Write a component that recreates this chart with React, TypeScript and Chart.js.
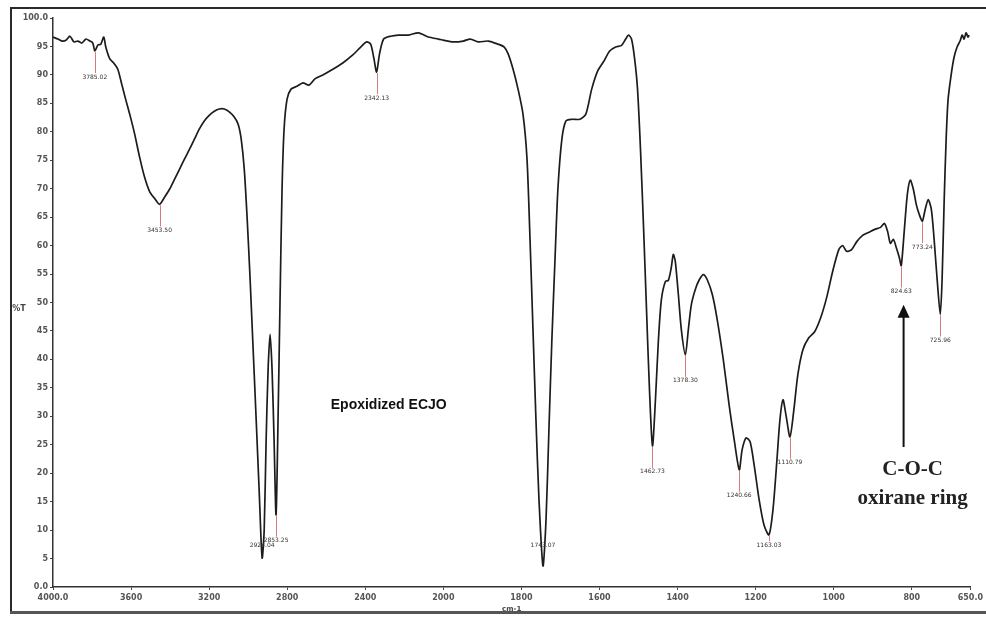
import React, { useEffect, useRef } from 'react';
import { Chart, registerables, LinearScale } from 'chart.js';

// ---- Data ----
const wavenumbers: number[] = [
  4000, 3974.5, 3954, 3933.7, 3913, 3893, 3872.5, 3852, 3831.6, 3811, 3796, 3785.7, 3770, 3755, 3740, 3729.6,
  3709, 3689, 3668, 3648, 3627.6, 3607, 3581.6, 3556, 3530.6, 3505, 3479.6, 3454, 3428.6, 3403, 3377.6, 3352,
  3326.5, 3301, 3275.5, 3250, 3224.9, 3199.7, 3173.5, 3148, 3122.5, 3097, 3071.4, 3051, 3035.7, 3020, 3005,
  2990, 2974.5, 2959, 2943.9, 2928.6, 2918, 2908, 2898, 2887.8, 2877.6, 2867.4, 2857.2, 2847, 2836.7, 2826.5,
  2816, 2801, 2780.6, 2750, 2719.4, 2688.8, 2658, 2617.4, 2566.3, 2515.3, 2464, 2423.5, 2393, 2372.5, 2357,
  2342, 2327, 2306, 2270, 2229.6, 2178.6, 2127.6, 2076.5, 2025.5, 2000,
  1974.5, 1949, 1931, 1910.7, 1885, 1859.7, 1844, 1834, 1821.4, 1808.7, 1796, 1785.7, 1778, 1770.4, 1762.8,
  1755, 1744.8, 1737, 1729.6, 1722, 1714, 1706.6, 1696.4, 1686, 1671, 1650.5, 1635, 1620, 1604.6, 1589, 1574,
  1558.7, 1543.4, 1533, 1525.5, 1518, 1510, 1502.6, 1495, 1487, 1479.6, 1472, 1464.3, 1456.7, 1449, 1441.5,
  1431.3, 1423.6, 1416, 1411, 1405.8, 1398, 1390.3, 1380, 1372.5, 1364.8, 1354.6, 1344.4, 1334, 1324, 1311,
  1298.5, 1283, 1268, 1255, 1242, 1234.7, 1224.5, 1214, 1204, 1191, 1178.6, 1166, 1155.6, 1145.4, 1137.8,
  1130, 1122.5, 1112, 1102, 1092, 1079, 1064, 1048.5, 1033, 1018, 1002.6, 987, 977, 967, 954, 941, 926, 911,
  895, 880, 870, 862, 855, 847, 840, 832, 827, 819, 811.4, 803.8, 796, 788.6, 781, 773, 765.6, 758, 750,
  742.8, 735, 727, 722.4, 717, 712, 707, 699, 691.7, 684, 676, 671, 666, 661, 656, 653,
];

const transmittance: number[] = [
  96.65, 96.3, 95.95, 96.1, 96.8, 95.8, 95.95, 95.6, 96.3, 95.95, 95.6, 94.2, 95.25, 95.4, 96.65, 94.9,
  92.8, 92.1, 91.0, 88.4, 85.7, 83.1, 79.6, 75.5, 72.0, 69.5, 68.3, 67.25, 68.5, 69.9, 71.65, 73.4,
  75.2, 76.9, 78.7, 80.5, 81.9, 82.9, 83.6, 84.0, 84.0, 83.5, 82.6, 81.3, 78.7, 73.4, 64.6,
  54.0, 41.7, 29.4, 17.1, 5.1, 10.0, 25.9, 38.2, 44.4, 38.2, 25.9, 12.7, 29.4, 50.5, 69.9,
  80.5, 85.7, 87.5, 88.0, 88.6, 88.2, 89.3, 90.0, 91.0, 92.1, 93.5, 94.9, 95.8, 95.4, 93.1,
  90.5, 93.7, 96.3, 96.8, 97.0, 97.0, 97.4, 96.65, 96.3, 96.1,
  95.8, 95.95, 96.3, 95.8, 95.95, 95.4, 94.9, 93.7, 91.0, 87.5, 83.1, 75.2, 61.1, 45.2, 29.4,
  15.3, 3.7, 11.8, 27.6, 43.5, 57.6, 69.9, 78.7, 81.9, 82.2, 82.2, 83.1, 87.5, 90.7, 92.4, 94.2,
  94.9, 95.2, 96.3, 97.0, 96.3, 92.8, 87.5, 76.9, 62.9, 48.8, 34.7, 24.8, 32.9, 43.5, 50.5,
  53.7, 53.9, 56.2, 58.45, 57.2, 51.4, 45.2, 40.8, 45.2, 49.6, 52.3, 54.0, 54.9, 54.0, 51.4,
  47.0, 40.0, 32.0, 25.9, 20.6, 24.1, 26.2, 25.5, 21.5, 15.3, 10.9, 9.15, 13.6, 22.4, 29.4,
  32.9, 30.3, 26.4, 31.2, 37.3, 41.7, 43.8, 44.9, 47.4, 50.9, 55.5, 59.3, 60.0, 59.0, 59.3, 60.7, 61.8, 62.3,
  62.85, 63.2, 63.9, 62.5, 60.4, 61.1, 59.7, 57.9, 56.5, 62.85, 69.0, 71.5, 69.9, 67.25, 65.5, 64.3, 66.4, 68.1, 66.4,
  61.1, 54.0, 47.9, 54.0, 68.1, 78.7, 85.7, 90.1, 93.1, 94.9, 96.0, 97.0, 96.3, 97.4, 96.65, 97.0,
];

const xTickValues: number[] = [4000, 3600, 3200, 2800, 2400, 2000, 1800, 1600, 1400, 1200, 1000, 800, 650];
const xTickLabels: string[] = ['4000.0', '3600', '3200', '2800', '2400', '2000', '1800', '1600', '1400', '1200', '1000', '800', '650.0'];

const peakWavenumbers: number[] = [3785.7, 3454, 2928.6, 2857.2, 2342, 1744.8, 1464.3, 1380, 1242, 1166, 1112, 827, 773, 727];
const peakLabels: string[] = ['3785.02', '3453.50', '2924.04', '2853.25', '2342.13', '1743.07', '1462.73', '1378.30', '1240.66', '1163.03', '1110.79', '824.63', '773.24', '725.96'];

const chartTitle = 'Epoxidized ECJO';
const annotationLines: string[] = ['C-O-C', 'oxirane ring'];

// ---- Split wavenumber axis (400 cm-1 per division above 2000, 200 below) ----
const AXIS_MAX = 4000;
const AXIS_MIN = 650;
const AXIS_BREAK = 2000;
const HIGH_STEP = 400;
const LOW_STEP = 200;
const HIGH_UNITS = (AXIS_MAX - AXIS_BREAK) / HIGH_STEP;
const TOTAL_UNITS = HIGH_UNITS + (AXIS_BREAK - AXIS_MIN) / LOW_STEP;

function toFrac(w: number): number {
  const u = w >= AXIS_BREAK ? (AXIS_MAX - w) / HIGH_STEP : HIGH_UNITS + (AXIS_BREAK - w) / LOW_STEP;
  return u / TOTAL_UNITS;
}
function fromFrac(f: number): number {
  const u = f * TOTAL_UNITS;
  return u <= HIGH_UNITS ? AXIS_MAX - u * HIGH_STEP : AXIS_BREAK - (u - HIGH_UNITS) * LOW_STEP;
}

class WavenumberScale extends LinearScale {
  static id = 'wavenumber';
  static defaults = LinearScale.defaults;
  buildTicks() {
    (this as any).start = this.min;
    (this as any).end = this.max;
    return xTickValues.map((v) => ({ value: v }));
  }
  getPixelForValue(v: number) {
    if (v === null || v === undefined || isNaN(v)) return NaN;
    return this.getPixelForDecimal(toFrac(v));
  }
  getValueForPixel(p: number) {
    return fromFrac(this.getDecimalForPixel(p));
  }
}

Chart.register(...registerables, WavenumberScale as any);

const tickFont = { family: '"DejaVu Sans", sans-serif', size: 8, weight: 'bold' as const };

const ftirPlugin = {
  id: 'ftirDecor',
  beforeDraw(chart: any) {
    const ctx = chart.ctx;
    ctx.save();
    ctx.fillStyle = '#ffffff';
    ctx.fillRect(0, 0, chart.width, chart.height);
    ctx.fillStyle = '#2a2a2a';
    ctx.fillRect(10, 7, chart.width - 10, 2);
    ctx.fillRect(10, 7, 2, 606);
    ctx.fillStyle = '#555555';
    ctx.fillRect(10, 611, chart.width - 10, 3);
    ctx.restore();
  },
  afterDatasetsDraw(chart: any) {
    const ctx = chart.ctx;
    const xs = chart.scales.x;
    const ys = chart.scales.y;
    const meta = chart.getDatasetMeta(0);
    ctx.save();
    // peak markers
    ctx.font = '6px "DejaVu Sans", sans-serif';
    ctx.textAlign = 'center';
    ctx.textBaseline = 'middle';
    peakWavenumbers.forEach((wn, k) => {
      let best = 0;
      let bd = Infinity;
      wavenumbers.forEach((w, i) => {
        const d = Math.abs(w - wn);
        if (d < bd) { bd = d; best = i; }
      });
      const el = meta.data[best];
      if (!el) return;
      const px = el.x;
      const py = el.y;
      const ly = Math.min(py + 26, chart.chartArea.bottom - 42);
      if (ly - 4 > py + 1) {
        ctx.strokeStyle = '#d97a7a';
        ctx.lineWidth = 1;
        ctx.beginPath();
        ctx.moveTo(Math.round(px) + 0.5, py + 1);
        ctx.lineTo(Math.round(px) + 0.5, ly - 4);
        ctx.stroke();
      }
      ctx.fillStyle = '#333333';
      ctx.fillText(peakLabels[k], px, ly);
    });

    // title text inside plot
    ctx.fillStyle = '#111111';
    ctx.font = 'bold 14px "Liberation Sans", Arial, sans-serif';
    ctx.fillText(chartTitle, xs.getPixelForValue(2280), ys.getPixelForValue(32));

    // arrow
    const ax = xs.getPixelForValue(821);
    const tipY = ys.getPixelForValue(49.6);
    const baseY = ys.getPixelForValue(24.6);
    ctx.strokeStyle = '#111111';
    ctx.lineWidth = 2;
    ctx.beginPath();
    ctx.moveTo(ax, baseY);
    ctx.lineTo(ax, tipY + 10);
    ctx.stroke();
    ctx.fillStyle = '#111111';
    ctx.beginPath();
    ctx.moveTo(ax, tipY);
    ctx.lineTo(ax - 6, tipY + 13);
    ctx.lineTo(ax + 6, tipY + 13);
    ctx.closePath();
    ctx.fill();

    // C-O-C oxirane ring
    ctx.font = 'bold 21px "Liberation Serif", "Times New Roman", serif';
    ctx.fillStyle = '#222222';
    const tx = xs.getPixelForValue(798);
    ctx.fillText(annotationLines[0], tx, ys.getPixelForValue(20.6));
    ctx.fillText(annotationLines[1], tx, ys.getPixelForValue(15.6));

    // axis titles
    ctx.font = 'bold 8px "DejaVu Sans", sans-serif';
    ctx.fillStyle = '#444444';
    ctx.fillText('%T', 19, 309);
    ctx.font = 'bold 7px "DejaVu Sans", sans-serif';
    ctx.fillText('cm-1', (chart.chartArea.left + chart.chartArea.right) / 2, 609);
    ctx.restore();
  },
};

export default function App() {
  const canvasRef = useRef<HTMLCanvasElement | null>(null);

  useEffect(() => {
    if (!canvasRef.current) return;
    const points = wavenumbers.map((w, i) => ({ x: w, y: transmittance[i] }));
    const chart = new Chart(canvasRef.current, {
      type: 'line',
      data: {
        datasets: [
          {
            data: points,
            borderColor: '#1c1c1c',
            borderWidth: 1.7,
            pointRadius: 0,
            tension: 0.25,
            fill: false,
          },
        ],
      },
      options: {
        responsive: false,
        animation: false,
        events: [],
        layout: { padding: { top: 18, right: 13, left: 0, bottom: 0 } },
        plugins: { legend: { display: false }, tooltip: { enabled: false } },
        scales: {
          x: {
            type: 'wavenumber' as any,
            position: 'bottom',
            min: AXIS_MIN,
            max: AXIS_MAX,
            grid: { drawOnChartArea: false, drawTicks: true, tickLength: 3, color: '#444' },
            border: { display: true, color: '#333', width: 1.5 },
            ticks: {
              autoSkip: false,
              maxRotation: 0,
              padding: 3,
              color: '#555',
              font: tickFont,
              callback: (_v: any, i: number) => xTickLabels[i],
            },
            afterFit: (scale: any) => { scale.height = 32; },
          } as any,
          y: {
            type: 'linear',
            min: 0,
            max: 100,
            grid: { drawOnChartArea: false, drawTicks: true, tickLength: 3, color: '#444' },
            border: { display: true, color: '#333', width: 1.5 },
            ticks: {
              stepSize: 5,
              padding: 2,
              color: '#555',
              font: tickFont,
              callback: (v: any) => (v === 100 ? '100.0' : v === 0 ? '0.0' : String(v)),
            },
            afterFit: (scale: any) => { scale.width = 53; },
          },
        },
      },
      plugins: [ftirPlugin],
    });
    return () => chart.destroy();
  }, []);

  return (
    <div style={{ position: 'absolute', left: 0, top: 0, width: 986, height: 619, background: '#fff' }}>
      <canvas ref={canvasRef} width={986} height={619} style={{ display: 'block' }} />
    </div>
  );
}
